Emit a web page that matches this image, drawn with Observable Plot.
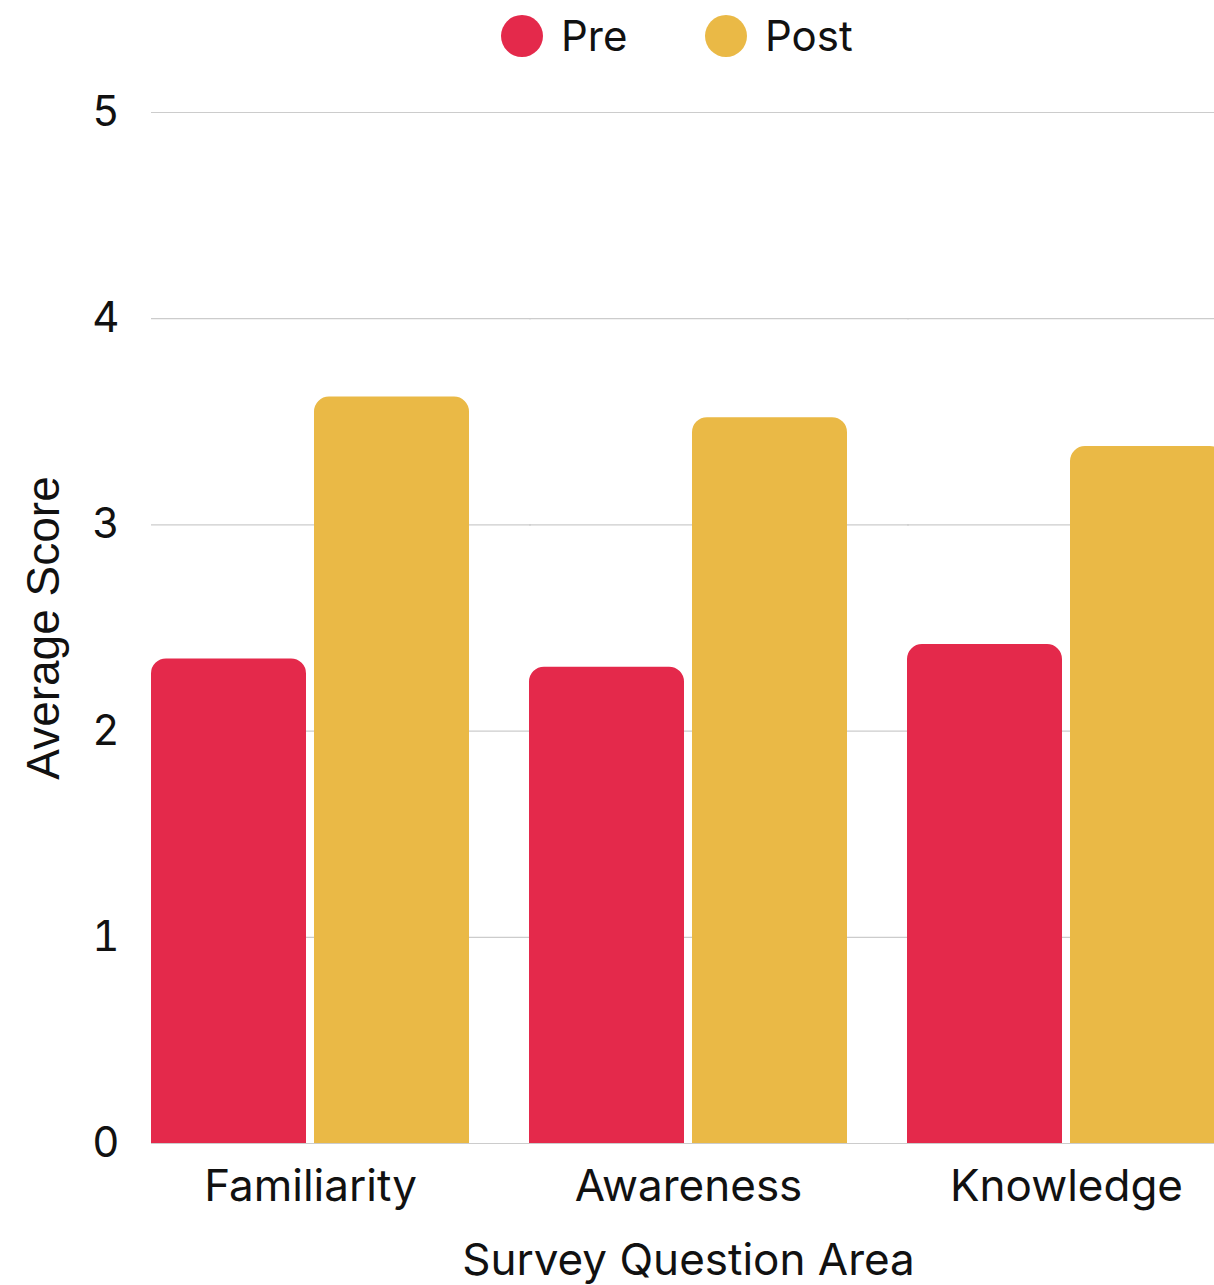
<!DOCTYPE html>
<html>
<head>
<meta charset="utf-8">
<script src="https://cdn.jsdelivr.net/npm/d3@7"></script>
<script src="https://cdn.jsdelivr.net/npm/@observablehq/plot@0.6"></script>
<style>
  html, body { margin: 0; padding: 0; background: #fff; overflow: hidden; }
  body { font-family: Inter, "Noto Sans", sans-serif; color: #111; }
  #legend { position: relative; height: 80px; width: 1214px; }
  #legend .dot { position: absolute; top: 15px; width: 42px; height: 42px; border-radius: 50%; }
  #legend .lab { position: absolute; top: 15px; font-size: 42px; line-height: 42px; white-space: nowrap; }
  #chart svg { display: block; overflow: visible; max-width: none !important; }
</style>
</head>
<body>
<div id="legend"></div>
<div id="chart"></div>
<script>
const categories = ["Familiarity", "Awareness", "Knowledge"];
const series = ["Pre", "Post"];
const preValues = [2.35, 2.31, 2.42];
const postValues = [3.62, 3.52, 3.38];
const yTicks = [0, 1, 2, 3, 4, 5];
const colors = ["#E4294B", "#EAB946"];
const xTitle = "Survey Question Area";
const yTitle = "Average Score";

const data = [];
categories.forEach((c, i) => {
  data.push({category: c, series: "Pre", value: preValues[i]});
  data.push({category: c, series: "Post", value: postValues[i]});
});

// Legend
const legend = document.getElementById("legend");
const legendLeft = [501, 705];
series.forEach((s, i) => {
  const dot = document.createElement("span");
  dot.className = "dot";
  dot.style.left = legendLeft[i] + "px";
  dot.style.background = colors[i];
  legend.appendChild(dot);
  const lab = document.createElement("span");
  lab.className = "lab";
  lab.style.left = (legendLeft[i] + 60) + "px";
  lab.textContent = s;
  legend.appendChild(lab);
});

const chart = Plot.plot({
  width: 1230,
  height: 1205,
  marginTop: 32,
  marginBottom: 142,
  marginLeft: 151,
  marginRight: 5,
  style: {fontFamily: "Inter, 'Noto Sans', sans-serif", fontSize: "42px", color: "#111", background: "transparent", overflow: "visible", maxWidth: "none"},
  fx: {domain: categories, paddingInner: 0.16, paddingOuter: 0, label: null},
  x: {domain: series, paddingInner: 0.05, paddingOuter: 0, axis: null},
  y: {domain: [0, 5], label: null},
  color: {domain: series, range: colors},
  marks: [
    Plot.ruleY(yTicks, {stroke: "#cccccc", strokeWidth: 1.2, insetRight: -62}),
    Plot.barY(data, {fx: "category", x: "series", y: "value", fill: "series", ry1: 15}),
    Plot.axisY(yTicks, {tickSize: 0, tickPadding: 32, label: null, fontSize: 42, tickFormat: d => String(d)}),
    Plot.axisFx({anchor: "bottom", tickSize: 0, tickPadding: 26, label: null, fontSize: 44}),
    Plot.text([yTitle], {facet: "super", frameAnchor: "left", dx: -107, rotate: -90, text: d => d, fontSize: 46, fontFamily: "'Liberation Sans', Arial, sans-serif", lineAnchor: "middle", textAnchor: "middle"}),
    Plot.text([xTitle], {facet: "super", frameAnchor: "bottom", dy: 117, text: d => d, fontSize: 44, lineAnchor: "middle", textAnchor: "middle"})
  ]
});
document.getElementById("chart").appendChild(chart);
</script>
</body>
</html>
